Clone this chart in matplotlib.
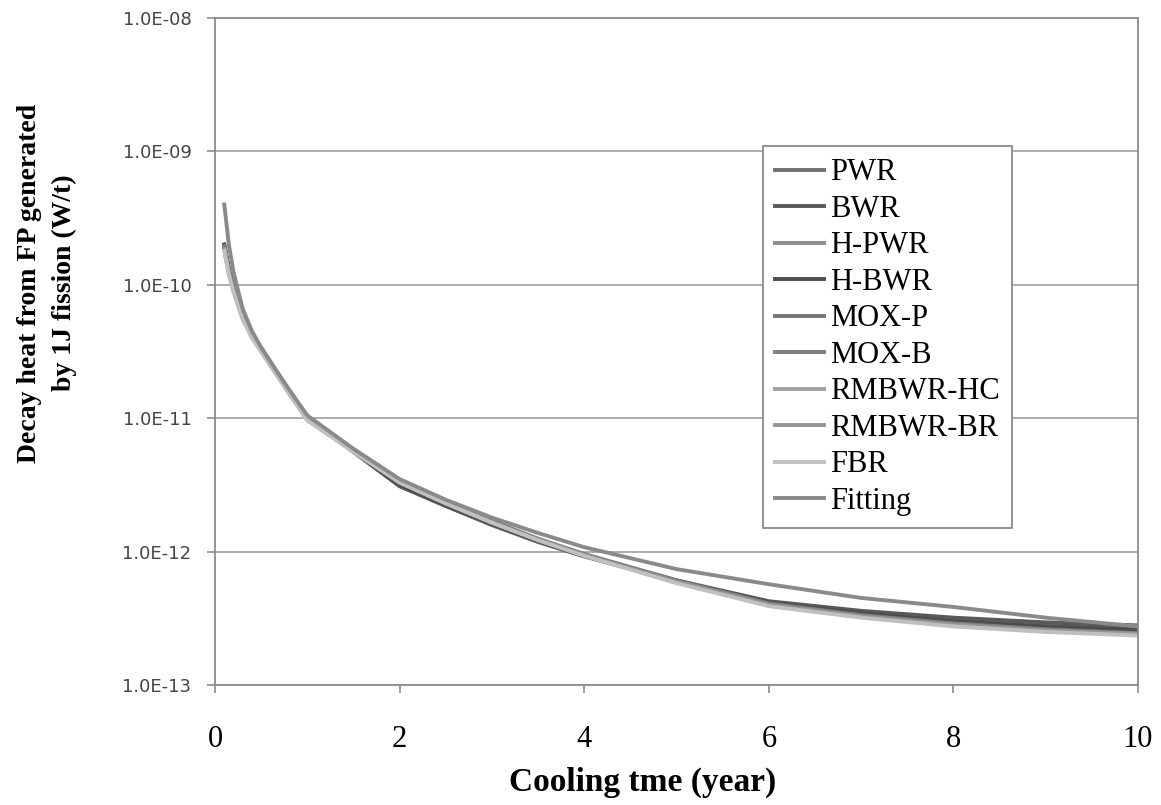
import numpy as np
import matplotlib
matplotlib.use("Agg")
import matplotlib.pyplot as plt
from matplotlib.ticker import FuncFormatter, NullLocator, FixedLocator

# cooling time (year)
t = [0.1, 0.15, 0.2, 0.3, 0.4, 0.5, 0.6, 0.8, 1.0, 1.5, 2.0, 2.5, 3.0, 3.5, 4.0,
     5.0, 6.0, 7.0, 8.0, 9.0, 10.0]

# decay heat (W/t)
pwr = [2.0e-10, 1.3e-10, 9.5e-11, 5.8e-11, 4.2e-11, 3.3e-11, 2.6e-11, 1.6e-11, 1.0e-11, 5.6e-12,
       3.1e-12, 2.2e-12, 1.58e-12, 1.18e-12, 9.2e-13, 6.0e-13, 4.2e-13, 3.55e-13, 3.15e-13, 2.9e-13, 2.75e-13]
bwr = [2.0e-10, 1.32e-10, 9.6e-11, 5.9e-11, 4.25e-11, 3.35e-11, 2.65e-11, 1.62e-11, 1.0e-11, 5.6e-12,
       3.1e-12, 2.2e-12, 1.6e-12, 1.2e-12, 9.3e-13, 6.1e-13, 4.25e-13, 3.6e-13, 3.2e-13, 2.95e-13, 2.8e-13]
h_pwr = [1.9e-10, 1.25e-10, 9.2e-11, 5.6e-11, 4.1e-11, 3.2e-11, 2.5e-11, 1.55e-11, 9.8e-12, 5.7e-12,
         3.3e-12, 2.3e-12, 1.65e-12, 1.22e-12, 9.4e-13, 5.9e-13, 4.0e-13, 3.3e-13, 2.85e-13, 2.6e-13, 2.45e-13]
h_bwr = [2.0e-10, 1.3e-10, 9.4e-11, 5.8e-11, 4.2e-11, 3.3e-11, 2.6e-11, 1.6e-11, 1.0e-11, 5.7e-12,
         3.2e-12, 2.25e-12, 1.62e-12, 1.2e-12, 9.3e-13, 6.0e-13, 4.15e-13, 3.45e-13, 3.0e-13, 2.75e-13, 2.6e-13]
mox_p = [1.95e-10, 1.28e-10, 9.3e-11, 5.7e-11, 4.15e-11, 3.25e-11, 2.55e-11, 1.58e-11, 1.0e-11, 5.8e-12,
         3.35e-12, 2.35e-12, 1.7e-12, 1.25e-12, 9.6e-13, 6.1e-13, 4.1e-13, 3.35e-13, 2.9e-13, 2.62e-13, 2.45e-13]
mox_b = [1.95e-10, 1.27e-10, 9.3e-11, 5.7e-11, 4.1e-11, 3.2e-11, 2.55e-11, 1.57e-11, 9.9e-12, 5.7e-12,
         3.3e-12, 2.3e-12, 1.66e-12, 1.23e-12, 9.5e-13, 6.0e-13, 4.05e-13, 3.3e-13, 2.88e-13, 2.6e-13, 2.42e-13]
rmbwr_hc = [1.85e-10, 1.22e-10, 9.0e-11, 5.6e-11, 4.05e-11, 3.2e-11, 2.5e-11, 1.55e-11, 9.7e-12, 5.7e-12,
            3.3e-12, 2.3e-12, 1.65e-12, 1.22e-12, 9.4e-13, 5.9e-13, 3.95e-13, 3.25e-13, 2.8e-13, 2.55e-13, 2.4e-13]
rmbwr_br = [1.85e-10, 1.23e-10, 9.1e-11, 5.6e-11, 4.1e-11, 3.2e-11, 2.52e-11, 1.56e-11, 9.8e-12, 5.7e-12,
            3.3e-12, 2.32e-12, 1.66e-12, 1.23e-12, 9.4e-13, 5.95e-13, 4.0e-13, 3.28e-13, 2.83e-13, 2.57e-13, 2.42e-13]
fbr = [1.8e-10, 1.2e-10, 8.8e-11, 5.5e-11, 4.0e-11, 3.15e-11, 2.5e-11, 1.55e-11, 9.6e-12, 5.6e-12,
       3.3e-12, 2.3e-12, 1.65e-12, 1.22e-12, 9.3e-13, 5.8e-13, 3.9e-13, 3.2e-13, 2.75e-13, 2.5e-13, 2.35e-13]
fitting = [4.0e-10, 2.0e-10, 1.25e-10, 6.6e-11, 4.5e-11, 3.4e-11, 2.65e-11, 1.65e-11, 1.05e-11, 5.9e-12,
           3.5e-12, 2.45e-12, 1.8e-12, 1.38e-12, 1.08e-12, 7.4e-13, 5.7e-13, 4.5e-13, 3.85e-13, 3.2e-13, 2.75e-13]

names = ['PWR', 'BWR', 'H-PWR', 'H-BWR', 'MOX-P', 'MOX-B', 'RMBWR-HC', 'RMBWR-BR', 'FBR', 'Fitting']
series = [pwr, bwr, h_pwr, h_bwr, mox_p, mox_b, rmbwr_hc, rmbwr_br, fbr, fitting]
colors = ['#707070', '#595959', '#8c8c8c', '#4d4d4d', '#767676', '#7f7f7f',
          '#a0a0a0', '#969696', '#c0c0c0', '#8a8a8a']

y_ticks = [1e-13, 1e-12, 1e-11, 1e-10, 1e-9, 1e-8]
x_ticks = [0, 2, 4, 6, 8, 10]

serif = 'Liberation Serif'

fig = plt.figure(figsize=(11.61, 8.05), dpi=100)
ax = fig.add_axes([0.1852, 0.149, 0.795, 0.8286])

for name, vals, c in zip(names, series, colors):
    ax.plot(t, vals, color=c, lw=2.8, label=name, solid_joinstyle='round')

ax.set_yscale('log')
ax.set_ylim(1e-13, 1e-8)
ax.set_xlim(0, 10)
ax.yaxis.set_major_locator(FixedLocator(y_ticks))
ax.yaxis.set_minor_locator(NullLocator())
ax.yaxis.set_major_formatter(FuncFormatter(lambda v, p: f"{v:.1E}"))
ax.set_xticks(x_ticks)

ax.grid(True, axis='y', color='#a6a6a6', lw=1.3)
ax.set_axisbelow(True)
for s in ax.spines.values():
    s.set_color('#8c8c8c')
    s.set_linewidth(1.3)

ax.tick_params(axis='y', which='major', length=6, width=1.2, color='#8c8c8c',
               pad=11, labelsize=13, labelcolor='#444444')
ax.tick_params(axis='x', which='major', length=6, width=1.2, color='#8c8c8c',
               pad=23, labelsize=22)
for lab in ax.get_xticklabels():
    lab.set_fontfamily(serif)

fig.text(643 / 1161, 1 - 782 / 805, 'Cooling tme (year)', family=serif,
         fontsize=24, fontweight='bold', ha='center', va='center')
fig.text(47 / 1161, 1 - 283 / 805, 'Decay heat from FP generated\nby 1J fission (W/t)',
         family=serif, fontsize=20, fontweight='bold', rotation=90,
         ha='center', va='center', multialignment='center', linespacing=1.5)

leg = ax.legend(loc='upper left', bbox_to_anchor=(0.594, 0.808), borderaxespad=0,
                prop={'family': serif, 'size': 22}, frameon=True, fancybox=False,
                labelspacing=0.245, handlelength=1.6, handletextpad=0.2,
                borderpad=0.4)
leg.get_frame().set_edgecolor('#808080')
leg.get_frame().set_linewidth(1.2)
leg.get_frame().set_alpha(1)

fig.savefig('out.png', dpi=100, facecolor='white')
